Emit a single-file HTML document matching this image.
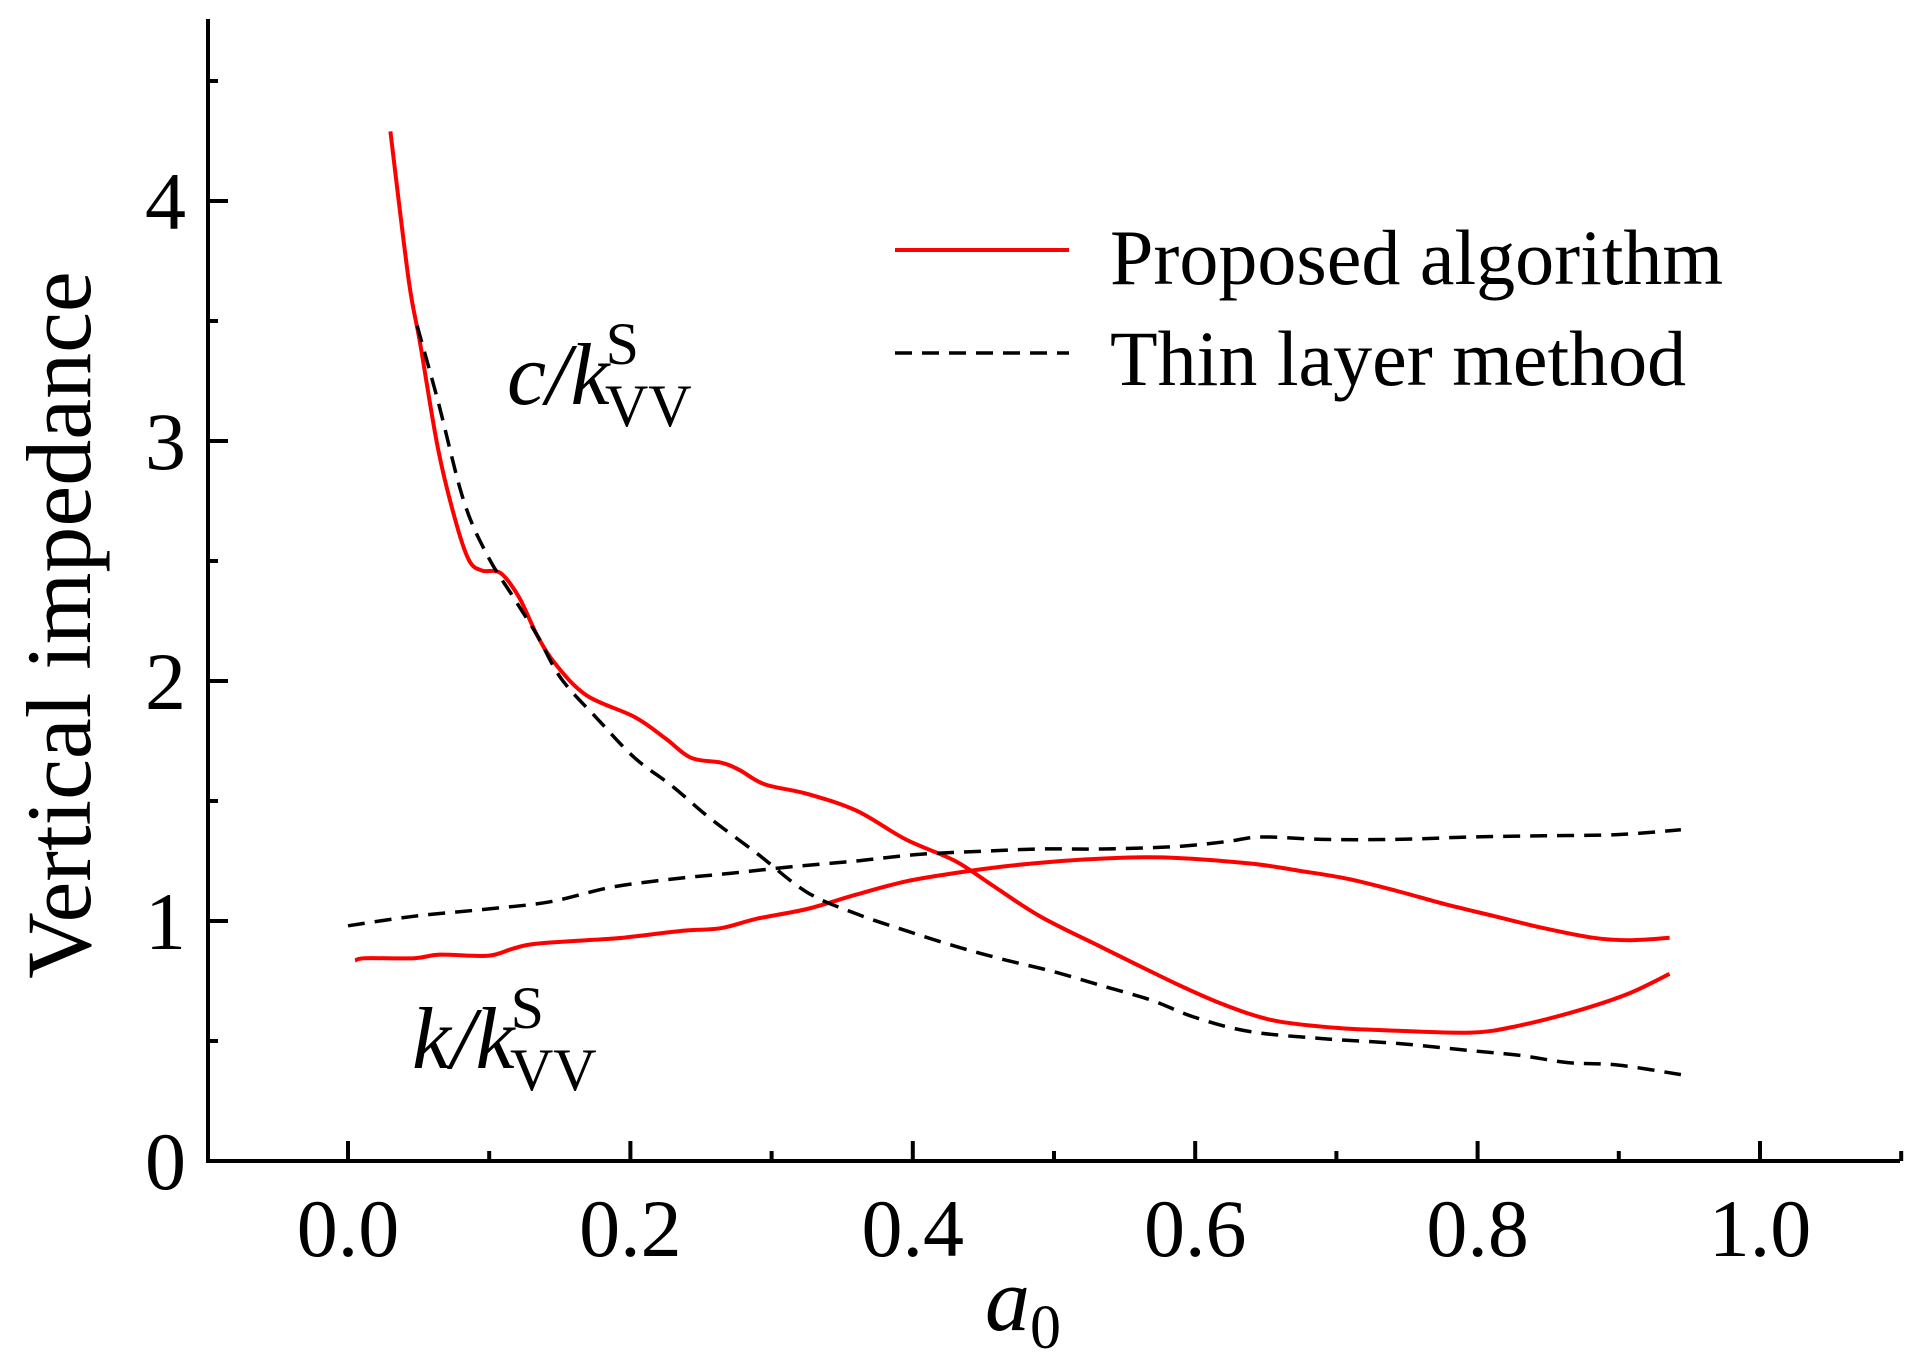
<!DOCTYPE html>
<html><head><meta charset="utf-8"><style>
html,body{margin:0;padding:0;background:#fff}
svg{display:block}
text{font-family:"Liberation Serif",serif;fill:#000}
</style></head><body>
<svg id="chart" width="1912" height="1368" viewBox="0 0 1912 1368" xmlns="http://www.w3.org/2000/svg">
<g id="axes"></g>
<g id="series"></g>
<text transform="translate(90,625) rotate(-90)" text-anchor="middle" font-size="92">Vertical impedance</text>
<text x="985" y="1330" font-size="90" font-style="italic">a<tspan font-style="normal" font-size="62" dy="18">0</tspan></text>
<text x="507" y="404" font-size="88" font-style="italic">c/k<tspan font-style="normal" font-size="60" dx="-4" dy="-40">S</tspan><tspan font-style="normal" font-size="60" dx="-34" dy="62">VV</tspan></text>
<text x="412" y="1068" font-size="88" font-style="italic">k/k<tspan font-style="normal" font-size="60" dx="-4" dy="-40">S</tspan><tspan font-style="normal" font-size="60" dx="-34" dy="62">VV</tspan></text>
<g>
<line x1="895" y1="250" x2="1069" y2="250" stroke="#f00" stroke-width="4"/>
<text x="1110" y="284" font-size="78">Proposed algorithm</text>
<line x1="895" y1="353" x2="1069" y2="353" stroke="#000" stroke-width="3.5" stroke-dasharray="17,10"/>
<text x="1110" y="385" font-size="78">Thin layer method</text>
</g>
</svg>
<script>
const xTickLabels = ["0.0","0.2","0.4","0.6","0.8","1.0"];
const yTickLabels = ["0","1","2","3","4"];
const redCx = [0.030,0.043,0.051,0.064,0.077,0.086,0.095,0.108,0.121,0.134,0.147,0.169,0.203,0.225,0.243,0.264,0.277,0.295,0.325,0.360,0.395,0.430,0.456,0.490,0.534,0.586,0.621,0.656,0.699,0.734,0.795,0.830,0.873,0.908,0.936];
const redCy = [4.29,3.67,3.41,2.96,2.65,2.50,2.46,2.45,2.35,2.19,2.07,1.94,1.85,1.76,1.68,1.66,1.63,1.57,1.53,1.46,1.34,1.25,1.15,1.02,0.89,0.74,0.65,0.585,0.555,0.545,0.535,0.565,0.63,0.70,0.78];
const redKx = [0.005,0.012,0.047,0.065,0.099,0.117,0.134,0.186,0.203,0.238,0.264,0.290,0.325,0.360,0.395,0.430,0.464,0.499,0.534,0.577,0.638,0.673,0.708,0.743,0.777,0.812,0.847,0.882,0.908,0.936];
const redKy = [0.835,0.845,0.845,0.86,0.855,0.885,0.906,0.926,0.936,0.96,0.97,1.01,1.05,1.11,1.165,1.20,1.227,1.247,1.26,1.265,1.24,1.21,1.176,1.125,1.07,1.02,0.97,0.93,0.92,0.93];
const tlmCx = [0.049,0.064,0.082,0.099,0.117,0.134,0.151,0.177,0.203,0.230,0.256,0.290,0.325,0.360,0.395,0.430,0.464,0.499,0.534,0.569,0.599,0.638,0.690,0.743,0.795,0.830,0.864,0.899,0.944];
const tlmCy = [3.48,3.16,2.75,2.52,2.35,2.19,2.01,1.84,1.68,1.56,1.43,1.28,1.12,1.03,0.96,0.895,0.84,0.79,0.73,0.67,0.60,0.54,0.51,0.49,0.46,0.44,0.41,0.40,0.36];
const tlmKx = [0.000,0.047,0.099,0.143,0.186,0.230,0.273,0.316,0.360,0.403,0.447,0.490,0.534,0.586,0.621,0.647,0.690,0.743,0.795,0.847,0.899,0.944];
const tlmKy = [0.98,1.02,1.05,1.08,1.14,1.175,1.20,1.227,1.25,1.277,1.29,1.30,1.30,1.31,1.33,1.35,1.34,1.34,1.35,1.355,1.36,1.38];

const NS = "http://www.w3.org/2000/svg";
const X = v => 348 + v * 1412;
const Y = v => 1161 - v * 240;
const axes = document.getElementById('axes');
const series = document.getElementById('series');
function mk(tag, attrs, parent){const e=document.createElementNS(NS,tag);for(const k in attrs)e.setAttribute(k,attrs[k]);parent.appendChild(e);return e;}

let e = mk('line',{x1:208,y1:1161,x2:1900,y2:1161,stroke:'#000','stroke-width':4},axes);


e = mk('line',{x1:208,y1:19,x2:208,y2:1163,stroke:'#000','stroke-width':4},axes);



xTickLabels.forEach((lab,i)=>{
  const v = parseFloat(lab);
  let t = mk('line',{x1:X(v),y1:1161,x2:X(v),y2:1141,stroke:'#000','stroke-width':4},axes);
  
  
  let m = mk('line',{x1:X(v+0.1),y1:1161,x2:X(v+0.1),y2:1151,stroke:'#000','stroke-width':4},axes);
  
  
  let tx = mk('text',{x:X(v),y:1256,'text-anchor':'middle','font-size':82},axes);
  tx.textContent = lab;
  
  
});
yTickLabels.forEach(lab=>{
  const v = parseFloat(lab);
  let t = mk('line',{x1:208,y1:Y(v),x2:228,y2:Y(v),stroke:'#000','stroke-width':4},axes);
  
  
  let m = mk('line',{x1:208,y1:Y(v+0.5),x2:218,y2:Y(v+0.5),stroke:'#000','stroke-width':4},axes);
  
  
  let tx = mk('text',{x:186,y:Y(v)+28,'text-anchor':'end','font-size':82},axes);
  tx.textContent = lab;
  
  
});

function pathFor(xs, ys){
  const p = xs.map((x,i)=>[X(x),Y(ys[i])]);
  let d = 'M'+p[0][0].toFixed(1)+','+p[0][1].toFixed(1);
  for(let i=0;i<p.length-1;i++){
    const p0=p[Math.max(i-1,0)],p1=p[i],p2=p[i+1],p3=p[Math.min(i+2,p.length-1)];
    const c1=[p1[0]+(p2[0]-p0[0])/6,p1[1]+(p2[1]-p0[1])/6];
    const c2=[p2[0]-(p3[0]-p1[0])/6,p2[1]-(p3[1]-p1[1])/6];
    d+=' C'+c1.map(n=>n.toFixed(1)).join(',')+' '+c2.map(n=>n.toFixed(1)).join(',')+' '+p2.map(n=>n.toFixed(1)).join(',');
  }
  return d;
}
let s;
s = mk('path',{d:pathFor(redCx,redCy),fill:'none',stroke:'#f00','stroke-width':4},series);


s = mk('path',{d:pathFor(redKx,redKy),fill:'none',stroke:'#f00','stroke-width':4},series);


s = mk('path',{d:pathFor(tlmCx,tlmCy),fill:'none',stroke:'#000','stroke-width':3.5,'stroke-dasharray':'17,10'},series);


s = mk('path',{d:pathFor(tlmKx,tlmKy),fill:'none',stroke:'#000','stroke-width':3.5,'stroke-dasharray':'17,10'},series);


</script>
</body></html>
